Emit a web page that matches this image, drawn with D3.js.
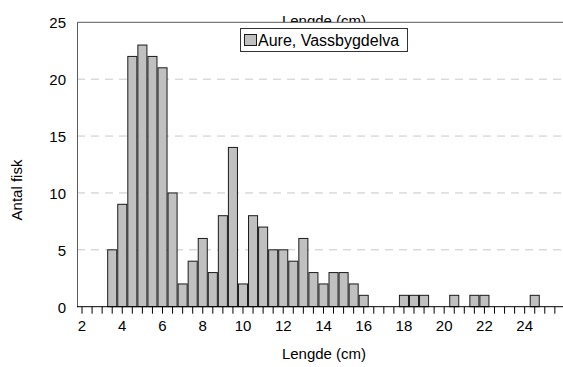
<!DOCTYPE html>
<html>
<head>
<meta charset="utf-8">
<script src="https://cdn.jsdelivr.net/npm/d3@7"></script>
<style>
  body { margin: 0; background: #fff; }
  text { font-family: "Liberation Sans", Arial, sans-serif; fill: #000; }
</style>
</head>
<body>
<div class="svg"></div>
<script>
window.onload = function() {

  var d3 = window.d3;
  var w = 563;
  var h = 367;

  // lengde-klasser (cm), halv-cm steg
  var lengths = ["2", "2.5", "3", "3.5", "4", "4.5", "5", "5.5", "6", "6.5",
                 "7", "7.5", "8", "8.5", "9", "9.5", "10", "10.5", "11", "11.5",
                 "12", "12.5", "13", "13.5", "14", "14.5", "15", "15.5", "16", "16.5",
                 "17", "17.5", "18", "18.5", "19", "19.5", "20", "20.5", "21", "21.5",
                 "22", "22.5", "23", "23.5", "24", "24.5", "25", "25.5", "26"];
  // antal fisk i hver klasse
  var counts = [0, 0, 0, 5, 9, 22, 23, 22, 21, 10,
                2, 4, 6, 3, 8, 14, 2, 8, 7, 5,
                5, 4, 6, 3, 2, 3, 3, 2, 1, 0,
                0, 0, 1, 1, 1, 0, 0, 1, 0, 1,
                1, 0, 0, 0, 0, 1, 0, 0, 0];
  var xTickLabels = ["2", "4", "6", "8", "10", "12", "14", "16", "18", "20", "22", "24"];
  var yTicks = [0, 5, 10, 15, 20, 25];
  var seriesName = "Aure, Vassbygdelva";

  var data = lengths.map(function(l, i) {
    return { key: l, value: counts[i] };
  });

  var margin = { top: 22.3, left: 77, bottom: 60.3 };
  var plotBottom = h - margin.bottom;

  var svg = d3.select(".svg").append("svg").attr("width", w).attr("height", h);

  var xScale = d3.scaleBand().domain(lengths)
                 .range([margin.left, margin.left + 49 * 10.06])
                 .paddingInner(0.1).paddingOuter(0.05);
  var yScale = d3.scaleLinear().domain([0, 25]).range([plotBottom, margin.top]);

  // top title (partly hidden behind the plot area)
  svg.append("text")
     .attr("x", 324).attr("y", 25.5)
     .attr("text-anchor", "middle")
     .style("font-size", "15px")
     .text("Lengde (cm)");

  // plot area
  svg.append("rect")
     .attr("x", margin.left).attr("y", margin.top)
     .attr("width", w - margin.left).attr("height", plotBottom - margin.top)
     .attr("fill", "#fff");

  // grid
  svg.selectAll(".grid")
     .data(yTicks.filter(function(d) { return d > 0 && d < 25; }))
     .enter().append("line")
     .attr("class", "grid")
     .attr("x1", margin.left).attr("x2", w)
     .attr("y1", function(d) { return yScale(d); })
     .attr("y2", function(d) { return yScale(d); })
     .attr("stroke", "#c8c8c8")
     .attr("stroke-dasharray", "8,6");

  svg.append("line")
     .attr("x1", margin.left).attr("x2", w)
     .attr("y1", yScale(25)).attr("y2", yScale(25))
     .attr("stroke", "#5a5a5a");

  // bars
  svg.selectAll(".bar")
     .data(data.filter(function(d) { return d.value > 0; }))
     .enter().append("rect")
     .attr("class", "bar")
     .attr("x", function(d) { return xScale(d.key); })
     .attr("width", xScale.bandwidth())
     .attr("y", function(d) { return yScale(d.value); })
     .attr("height", function(d) { return plotBottom - yScale(d.value); })
     .attr("fill", "#c0c0c0")
     .attr("stroke", "#1a1a1a")
     .attr("stroke-width", 1);

  // y axis
  var yAxis = d3.axisLeft(yScale).tickValues(yTicks).tickSize(0).tickPadding(11);
  var yG = svg.append("g")
     .attr("transform", "translate(" + margin.left + ",0)")
     .call(yAxis);
  yG.select(".domain").attr("stroke", "#5a5a5a");
  yG.selectAll("text").style("font-size", "15px").attr("dy", "0.36em");

  // x axis
  var xAxis = d3.axisBottom(xScale).tickSizeInner(7).tickSizeOuter(0).tickPadding(7)
                .tickFormat(function(d) { return xTickLabels.indexOf(d) >= 0 ? d : ""; });
  var xG = svg.append("g")
     .attr("transform", "translate(0," + plotBottom + ")")
     .call(xAxis);
  xG.select(".domain").attr("d", "M" + margin.left + ",0H" + w).attr("stroke", "#000");
  xG.selectAll("line").attr("stroke", "#000");
  xG.selectAll("text").style("font-size", "15px");

  // axis titles
  svg.append("text")
     .attr("x", 324).attr("y", 359)
     .attr("text-anchor", "middle")
     .style("font-size", "15px")
     .text("Lengde (cm)");

  svg.append("text")
     .attr("transform", "translate(22,190) rotate(-90)")
     .attr("text-anchor", "middle")
     .style("font-size", "15px")
     .text("Antal fisk");

  // legend
  var legend = svg.append("g");
  legend.append("rect")
        .attr("x", 240.5).attr("y", 28.5)
        .attr("width", 167).attr("height", 23)
        .attr("fill", "#fff").attr("stroke", "#333");
  legend.append("rect")
        .attr("x", 244.5).attr("y", 34.5)
        .attr("width", 12).attr("height", 11)
        .attr("fill", "#c0c0c0").attr("stroke", "#1a1a1a");
  legend.append("text")
        .attr("x", 258).attr("y", 45.5)
        .style("font-size", "16px")
        .text(seriesName);
}
</script>
</body>
</html>
